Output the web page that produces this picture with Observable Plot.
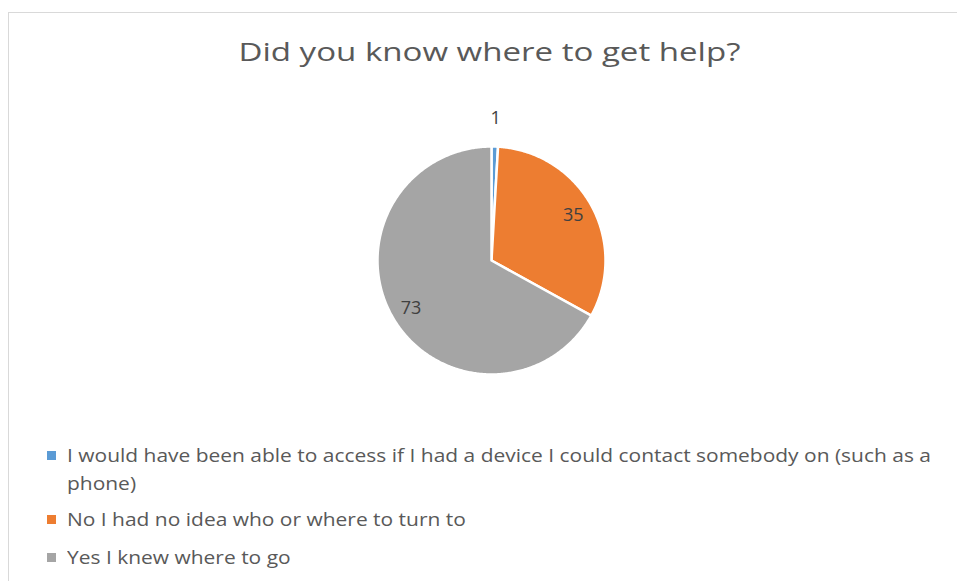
<!DOCTYPE html>
<html><head><meta charset="utf-8">
<script src="https://cdn.jsdelivr.net/npm/d3@7"></script>
<script src="https://cdn.jsdelivr.net/npm/@observablehq/plot@0.6"></script>
<style>
html,body{margin:0;padding:0;background:#fff;}
#wrap{position:relative;width:957px;height:581px;overflow:hidden;font-family:"Open Sans",sans-serif;color:#595959;}
#frame{position:absolute;left:8px;top:12px;width:1000px;height:700px;border:1px solid #d9d9d9;box-sizing:border-box;}
#title{position:absolute;left:0;top:34px;width:979px;text-align:center;font-size:26px;line-height:34px;white-space:nowrap;}
#title span{display:inline-block;transform-origin:center;}
#chart{position:absolute;left:0;top:100px;}
.leg{position:absolute;left:47px;font-size:19px;line-height:24px;white-space:nowrap;}
.leg i{position:absolute;left:0;top:8px;width:9px;height:9px;}
.leg span{position:absolute;left:20px;top:0;display:inline-block;transform-origin:left center;}
</style></head>
<body><div id="wrap"><div id="frame"></div><div id="title"><span>Did you know where to get help?</span></div><div id="chart"></div><div id="legend"></div></div>
<script>
const categories = [
  "I would have been able to access if I had a device I could contact somebody on (such as a phone)",
  "No I had no idea who or where to turn to",
  "Yes I knew where to go"
];
const values = [1, 35, 73];
const colors = ["#5B9BD5", "#ED7D31", "#A5A5A5"];
const legendLines = [
  ["I would have been able to access if I had a device I could contact somebody on (such as a", "phone)"],
  ["No I had no idea who or where to turn to"],
  ["Yes I knew where to go"]
];

const arcs = d3.pie().sort(null).value(d => d)(values);
const poly = [];
arcs.forEach((a, i) => {
  poly.push({cat: categories[i], x: 0, y: 0});
  const n = Math.max(2, Math.ceil((a.endAngle - a.startAngle) / 0.01));
  for (let k = 0; k <= n; k++) {
    const t = a.startAngle + (a.endAngle - a.startAngle) * k / n;
    poly.push({cat: categories[i], x: Math.sin(t), y: Math.cos(t)});
  }
});
const total = d3.sum(values);
const labels = arcs.map((a, i) => {
  const m = (a.startAngle + a.endAngle) / 2;
  const r = values[i] / total < 0.05 ? 1.25 : 0.82;
  return {x: Math.sin(m) * r, y: Math.cos(m) * r, v: values[i]};
});

const plot = Plot.plot({
  width: 957, height: 320, margin: 0,
  x: {domain: [-1, 1], range: [377, 605], axis: null},
  y: {domain: [-1, 1], range: [274, 46], axis: null},
  color: {domain: categories, range: colors},
  marks: [
    Plot.line(poly, {x: "x", y: "y", z: "cat", fill: "cat", stroke: "white", strokeWidth: 2.5, curve: "linear-closed"}),
    Plot.text(labels, {x: "x", y: "y", text: d => String(d.v), fontSize: 18, fill: "#404040", fontFamily: "Open Sans"})
  ]
});
document.getElementById("chart").appendChild(plot);

// legend
const legTops = [443, 471, 507, 545];
const leg = document.getElementById("legend");
let row = 0;
legendLines.forEach((lines, i) => {
  lines.forEach((txt, j) => {
    const d = document.createElement("div");
    d.className = "leg";
    d.style.top = legTops[row] + "px";
    if (j === 0) { const sq = document.createElement("i"); sq.style.background = colors[i]; d.appendChild(sq); }
    const s = document.createElement("span"); s.textContent = txt; d.appendChild(s);
    leg.appendChild(d);
    row++;
  });
});
// fit widths to a narrower face (Calibri-like proportions)
const spans = leg.querySelectorAll("span");
const first = spans[0];
const scale = 864 / first.getBoundingClientRect().width;
spans.forEach(s => s.style.transform = `scaleX(${scale})`);
const ts = document.querySelector("#title span");
ts.style.transform = `scaleX(${502 / ts.getBoundingClientRect().width})`;
</script></body></html>
